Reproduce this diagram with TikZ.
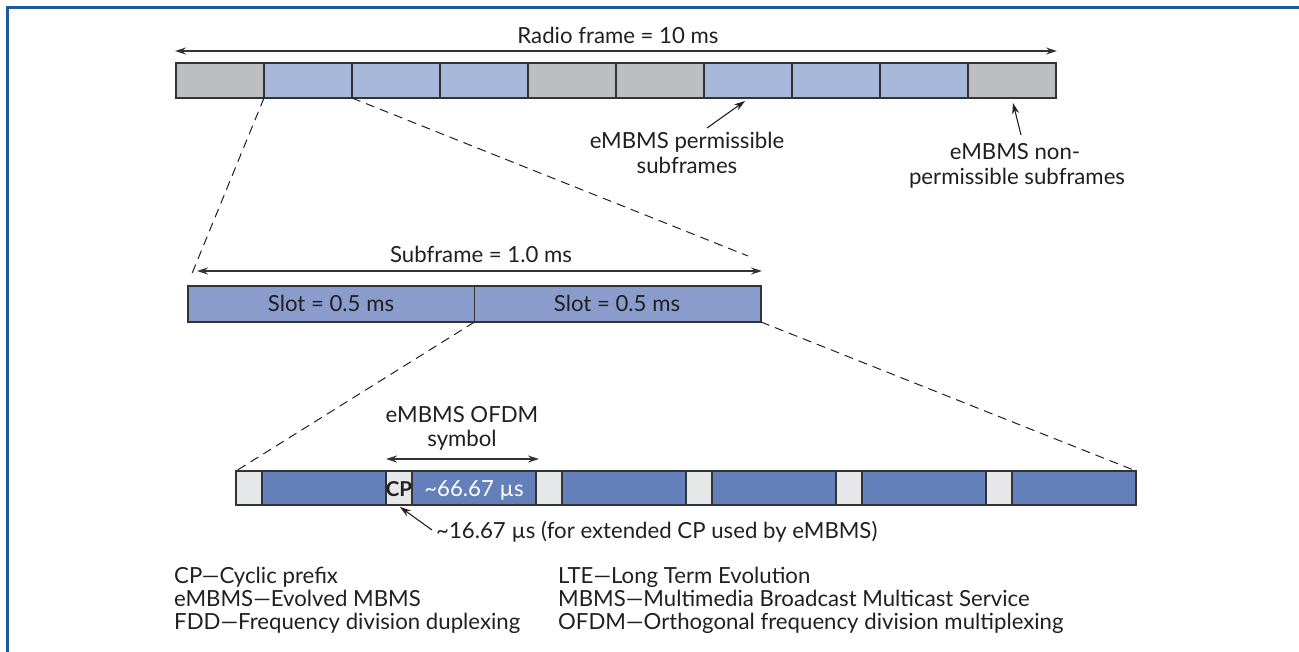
\documentclass[tikz,border=0pt]{standalone}
\usepackage{fontspec}
\setmainfont{Lato}
\usetikzlibrary{arrows.meta}
\definecolor{sfgray}{HTML}{BCBEC0}
\definecolor{sfblue}{HTML}{A8B8DA}
\definecolor{slotblue}{HTML}{8A9CCB}
\definecolor{ofdmblue}{HTML}{6480BA}
\definecolor{cpgray}{HTML}{E6E7E8}
\definecolor{framecol}{HTML}{1F5AA0}
\definecolor{boxline}{HTML}{333333}
\definecolor{txt}{HTML}{231F20}
\newcommand\lblfont{\fontsize{22.2}{26}\selectfont}
\begin{document}
\begin{tikzpicture}[x=1pt,y=-1pt,
  every node/.style={font=\lblfont,text=txt},
  cell/.style={draw=boxline,line width=1.1pt,inner sep=0pt,outer sep=0pt,anchor=north west},
  tf/.style={cell,minimum width=88pt,minimum height=35pt},
  slotbox/.style={cell,fill=slotblue,minimum width=286.5pt,minimum height=36pt},
  cpbox/.style={cell,fill=cpgray,minimum width=26pt,minimum height=34pt},
  databox/.style={cell,fill=ofdmblue,minimum width=124pt,minimum height=34pt},
  dim/.style={draw=boxline,line width=1.1pt,{Stealth[length=11pt,width=7pt]}-{Stealth[length=11pt,width=7pt]}},
  ptr/.style={draw=txt,line width=1.1pt,-{Stealth[length=11pt,width=7pt]}},
  zoomline/.style={draw=txt,line width=1pt,dash pattern=on 9pt off 6pt},
  lbl/.style={anchor=base,inner sep=0pt},
  leg/.style={anchor=base west,inner sep=0pt}]
\useasboundingbox (0,0) rectangle (1299,652);
\fill[white] (0,0) rectangle (1299,652);
\draw[framecol,line width=3pt] (7.5,652) -- (7.5,7.5) -- (1299,7.5);

% radio frame
\foreach \i/\c in {0/sfgray,1/sfblue,2/sfblue,3/sfblue,4/sfgray,5/sfgray,6/sfblue,7/sfblue,8/sfblue,9/sfgray}
  \node[tf,fill=\c] (sf\i) at (176+88*\i,63) {};
\coordinate (rfl) at (175,51);
\coordinate (rfr) at (1057,51);
\draw[dim] (rfl) -- (rfr);
\node[lbl] (rflabel) at (618,44) {Radio frame = 10 ms};

% annotations
\node[lbl] (perm1) at (687,149) {eMBMS permissible};
\node[lbl] (perm2) at (687,174) {subframes};
\coordinate (pa) at (707,128);
\coordinate (pat) at (745,101);
\draw[ptr] (pa) -- (pat);
\node[lbl] (np1) at (1015,160) {eMBMS non-};
\node[lbl] (np2) at (1017,185) {permissible subframes};
\coordinate (na) at (1021,135);
\coordinate (nat) at (1013,103);
\draw[ptr] (na) -- (nat);

% subframe
\node[slotbox] (slot1) at (188,286) {};
\node[slotbox] (slot2) at (474.5,286) {};
\node[anchor=base,inner sep=0pt,text=txt] (s1t) at (331,312) {Slot = 0.5 ms};
\node[anchor=base,inner sep=0pt,text=txt] (s2t) at (617,312) {Slot = 0.5 ms};
\coordinate (sfl) at (197,271);
\coordinate (sfr) at (762,271);
\draw[dim] (sfl) -- (sfr);
\node[lbl] (sflabel) at (481,263) {Subframe = 1.0 ms};

\coordinate (z1) at (191,276);
\coordinate (z2) at (748,256);
\draw[zoomline] (sf1.south west) -- (z1);
\draw[zoomline] (sf1.south east) -- (z2);

% OFDM symbols
\foreach \k in {0,...,5} {
  \node[cpbox] (cp\k) at (236+150*\k,471) {};
  \node[databox] (d\k) at (262+150*\k,471) {};
}
\draw[zoomline] (slot2.south west) -- (cp0.north west);
\draw[zoomline] (slot2.south east) -- (d5.north east);

\node[anchor=base,inner sep=0pt,font=\fontsize{20.5}{24}\selectfont\bfseries] (cplbl) at (cp1.center |- 0,496) {CP};
\node[anchor=base,inner sep=0pt,text=white] (dlbl) at (474,496) {\textasciitilde66.67 µs};
\coordinate (osl) at (386,459);
\coordinate (osr) at (539,459);
\draw[dim] (osl) -- (osr);
\node[lbl] (os1) at (462,422) {eMBMS OFDM};
\node[lbl] (os2) at (462,446) {symbol};

\node[anchor=base west,inner sep=0pt] (cpnote) at (436,538) {\textasciitilde16.67 µs (for extended CP used by eMBMS)};
\coordinate (cpa) at (432,530);
\coordinate (cpat) at (400,507);
\draw[ptr] (cpa) -- (cpat);

% legend
\node[leg] (l1) at (174,583) {CP—Cyclic prefix};
\node[leg] (l2) at (174,606) {eMBMS—Evolved MBMS};
\node[leg] (l3) at (174,629) {FDD—Frequency division duplexing};
\node[leg] (l4) at (558,583) {LTE—Long Term Evolution};
\node[leg] (l5) at (558,606) {MBMS—Multimedia Broadcast Multicast Service};
\node[leg] (l6) at (558,629) {OFDM—Orthogonal frequency division multiplexing};
\end{tikzpicture}
\end{document}
